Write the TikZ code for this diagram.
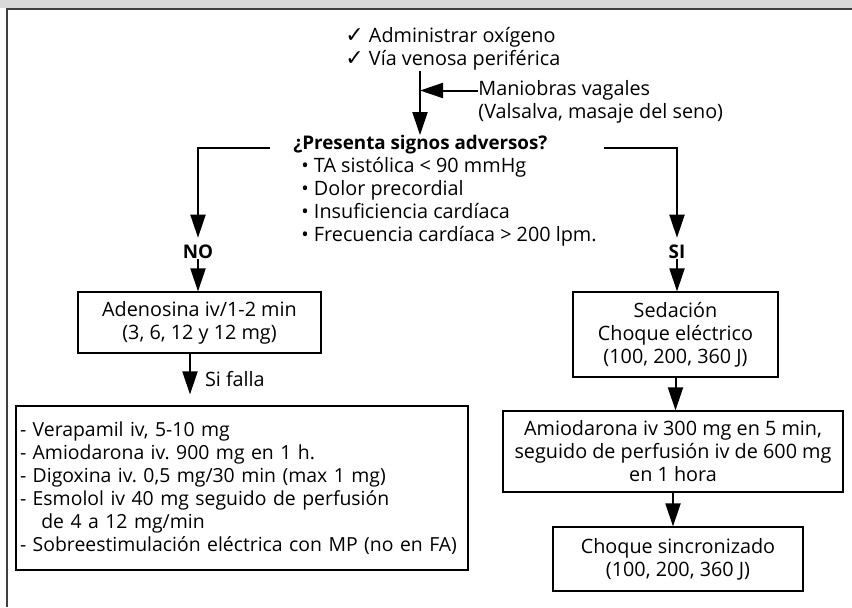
\documentclass[tikz,border=0pt]{standalone}
\usepackage{fontspec}
\setmainfont{Open Sans}
\newfontfamily\simbolos{DejaVu Sans}
\usetikzlibrary{arrows.meta,positioning}
\frenchspacing

\tikzset{
  caja/.style={draw, line width=0.6pt, align=center, inner sep=1pt},
  texto/.style={inner sep=0pt, align=left},
  flecha/.style={line width=1pt, -{Triangle[length=11.5pt,width=7.5pt]}},
}
\newcommand{\marca}{{\simbolos\fontsize{11}{11}\selectfont ✓}}
\newcommand{\pregunta}[1]{{\bfseries\fontsize{9.4}{11.4}\selectfont #1}}

\begin{document}
\begin{tikzpicture}[x=0.5pt,y=-0.5pt, font=\fontsize{9.9}{11.5}\selectfont]
\useasboundingbox (0,0) rectangle (852,607);
% marco y franja del titulo
\fill[black!15] (0,0) rectangle (852,8);
\draw[line width=1.2pt, black!75] (7,607) -- (7,9) -- (852,9);

% medidas iniciales
\node[texto, anchor=west] (medidas) at (345,49) {\marca\ Administrar oxígeno\\\marca\ Vía venosa periférica};
\node[texto, anchor=west] (maniobras) at (478,102) {Maniobras vagales\\(Valsalva, masaje del seno)};
\node[texto, anchor=west] (signos) at (293,191) {\pregunta{¿Presenta signos adversos?}\\
  \hspace*{4pt}• TA sistólica < 90 mmHg\\
  \hspace*{4pt}• Dolor precordial\\
  \hspace*{4pt}• Insuficiencia cardíaca\\
  \hspace*{4pt}• Frecuencia cardíaca > 200 lpm.};

\coordinate (eje) at (420,0);
\coordinate (vagal) at ([yshift=5.75pt]maniobras.west);
\coordinate (ramaIzq) at (270,148);
\coordinate (ramaDer) at (604,148);

\draw[flecha] (medidas.south -| eje) -- (signos.north -| eje);
\draw[flecha] (vagal) -- (vagal -| eje);

% rama sin signos adversos
\node[texto] (no) at (198,252) {\pregunta{NO}};
\node[caja, minimum width=121.5pt, minimum height=30.5pt] (adenosina) at (199.5,322.5) {Adenosina iv/1-2 min\\(3, 6, 12 y 12 mg)};
\node[caja, minimum width=226pt, minimum height=82pt, text width=222pt, inner xsep=2pt, align=left,
  font=\fontsize{9.7}{11.5}\selectfont] (fallos) at (242,488) {- Verapamil iv, 5-10 mg\\
  - Amiodarona iv. 900 mg en 1 h.\\
  - Digoxina iv. 0,5 mg/30 min (max 1 mg)\\
  - Esmolol iv 40 mg seguido de perfusión\\
  \hspace*{1.1em}de 4 a 12 mg/min\\
  - Sobreestimulación eléctrica con MP (no en FA)};
\coordinate (falla) at ([xshift=-4.75pt]adenosina.south);

\draw[flecha, shorten >=3.5pt] (ramaIzq) -| (no.north);
\draw[flecha] (no.south) -- (no.south |- adenosina.north);
\draw[flecha, shorten >=5.5pt] (falla) -- (falla |- fallos.north) node[texto, pos=0.5, right=7pt] {Si falla};

% rama con signos adversos
\node[texto] (si) at (677,252) {\pregunta{SI}};
\node[caja, minimum width=102.5pt, minimum height=42.5pt] (sedacion) at (675.5,334.5) {Sedación\\Choque eléctrico\\(100, 200, 360 J)};
\node[caja, minimum width=170pt, minimum height=40.5pt] (amio) at (673,451.5) {Amiodarona iv 300 mg en 5 min,\\seguido de perfusión iv de 600 mg\\en 1 hora};
\node[caja, minimum width=125pt, minimum height=32pt] (choque) at (678,559) {Choque sincronizado\\(100, 200, 360 J)};

\draw[flecha, shorten >=3.5pt] (ramaDer) -| (si.north);
\draw[flecha] (si.south) -- (si.south |- sedacion.north);
\draw[flecha] (sedacion.south) -- (sedacion.south |- amio.north);
\draw[flecha] (amio.south) -- (amio.south |- choque.north);
\end{tikzpicture}
\end{document}
